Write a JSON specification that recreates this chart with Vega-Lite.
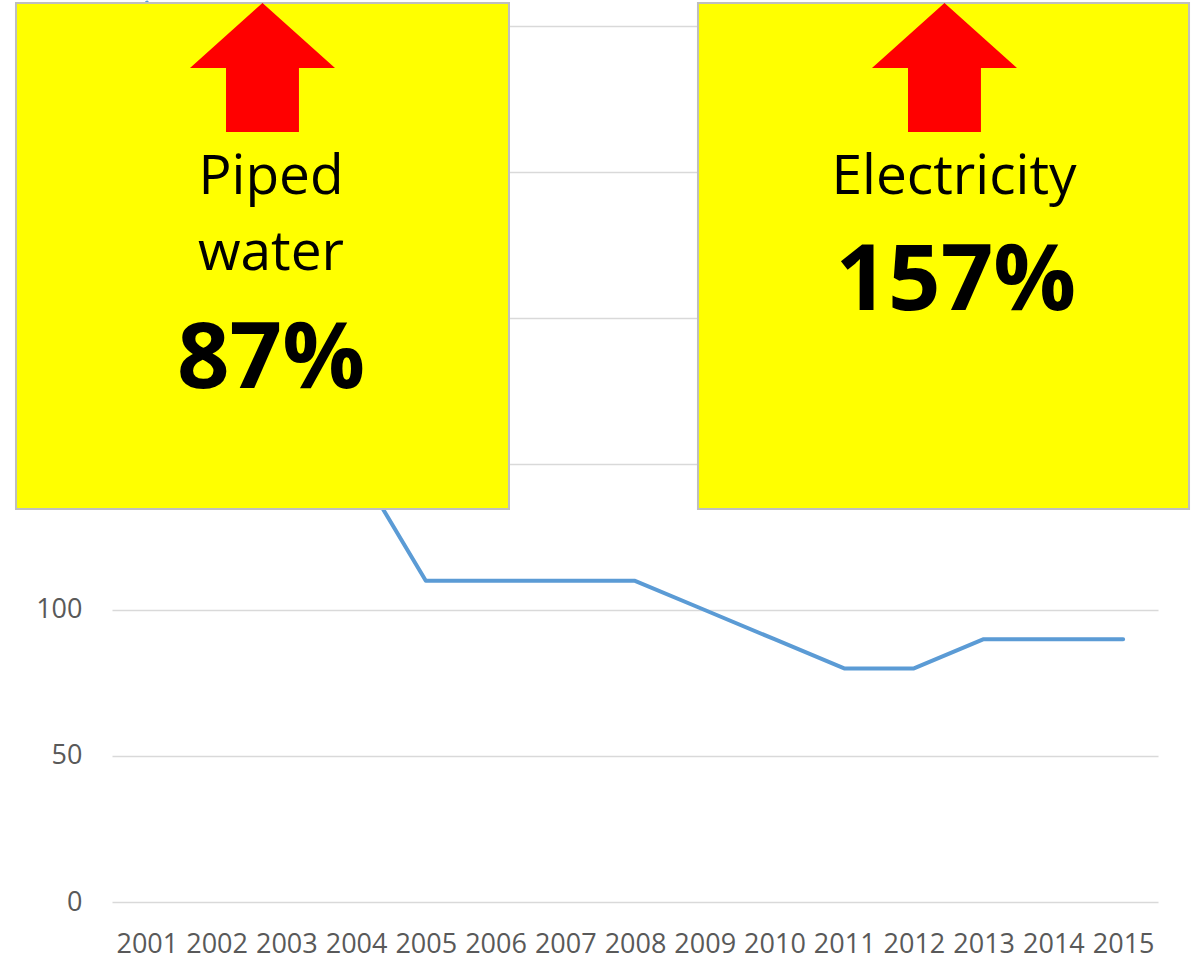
{
  "$schema": "https://vega.github.io/schema/vega-lite/v6.json",
  "width": 1046,
  "height": 902,
  "autosize": "none",
  "padding": {"left": 112, "top": 0, "right": 33, "bottom": 57},
  "background": "white",
  "config": {
    "view": {"stroke": null},
    "font": "Open Sans",
    "axis": {"labelFont": "Open Sans", "labelColor": "#595959", "labelFontSize": 27, "ticks": false, "domain": false}
  },
  "datasets": {
    "series": [
      {"year": 2001, "value": 308},
      {"year": 2002, "value": 270},
      {"year": 2003, "value": 210},
      {"year": 2004, "value": 150},
      {"year": 2005, "value": 110},
      {"year": 2006, "value": 110},
      {"year": 2007, "value": 110},
      {"year": 2008, "value": 110},
      {"year": 2009, "value": 100},
      {"year": 2010, "value": 90},
      {"year": 2011, "value": 80},
      {"year": 2012, "value": 80},
      {"year": 2013, "value": 90},
      {"year": 2014, "value": 90},
      {"year": 2015, "value": 90}
    ],
    "boxes": [
      {"name": "Piped water", "x1": 1999.123, "x2": 2006.193, "y1": 134.59, "y2": 307.88},
      {"name": "Electricity", "x1": 2008.903, "x2": 2015.945, "y1": 134.59, "y2": 307.88}
    ],
    "arrows": [
      {"name": "Piped water", "x": 2002.658, "y": 285.79},
      {"name": "Electricity", "x": 2012.438, "y": 285.79}
    ],
    "labels": [
      {"text": "Piped", "x": 2002.78, "y": 242.47},
      {"text": "water", "x": 2002.78, "y": 216.44},
      {"text": "Electricity", "x": 2012.575, "y": 242.47}
    ],
    "figures": [
      {"text": "87%", "x": 2002.78, "y": 176.03},
      {"text": "157%", "x": 2012.60, "y": 202.74}
    ]
  },
  "layer": [
    {
      "data": {"name": "series"},
      "mark": {"type": "line", "color": "#5B9BD5", "strokeWidth": 4, "strokeCap": "round", "strokeJoin": "round"},
      "encoding": {
        "x": {
          "field": "year", "type": "quantitative",
          "scale": {"domain": [2000.5, 2015.5], "nice": false, "zero": false},
          "axis": {"title": null, "grid": false, "values": [2001,2002,2003,2004,2005,2006,2007,2008,2009,2010,2011,2012,2013,2014,2015], "format": "d", "labelPadding": 29, "labelFlush": false, "labelOverlap": false, "labelBound": false}
        },
        "y": {
          "field": "value", "type": "quantitative",
          "scale": {"domain": [0, 308.9], "nice": false},
          "axis": {"title": null, "grid": true, "gridColor": "#D9D9D9", "gridWidth": 1.5, "values": [0,50,100,150,200,250,300], "labelPadding": 30}
        }
      }
    },
    {
      "data": {"name": "boxes"},
      "mark": {"type": "rect", "fill": "#FFFF00", "stroke": "#BFBFBF", "strokeWidth": 2},
      "encoding": {
        "x": {"field": "x1", "type": "quantitative"},
        "x2": {"field": "x2"},
        "y": {"field": "y1", "type": "quantitative"},
        "y2": {"field": "y2"}
      }
    },
    {
      "data": {"name": "arrows"},
      "mark": {"type": "point", "filled": true, "fill": "#FF0000", "opacity": 1, "strokeWidth": 0, "size": 21025,
               "shape": "M0,-0.89 L1,0.007 L0.503,0.007 L0.503,0.89 L-0.503,0.89 L-0.503,0.007 L-1,0.007 Z"},
      "encoding": {
        "x": {"field": "x", "type": "quantitative"},
        "y": {"field": "y", "type": "quantitative"}
      }
    },
    {
      "data": {"name": "labels"},
      "mark": {"type": "text", "font": "Open Sans", "fontSize": 55, "color": "#000000", "align": "center", "baseline": "alphabetic"},
      "encoding": {
        "x": {"field": "x", "type": "quantitative"},
        "y": {"field": "y", "type": "quantitative"},
        "text": {"field": "text"}
      }
    },
    {
      "data": {"name": "figures"},
      "mark": {"type": "text", "font": "Open Sans", "fontSize": 92, "fontWeight": "bold", "color": "#000000", "align": "center", "baseline": "alphabetic"},
      "encoding": {
        "x": {"field": "x", "type": "quantitative"},
        "y": {"field": "y", "type": "quantitative"},
        "text": {"field": "text"}
      }
    }
  ]
}
